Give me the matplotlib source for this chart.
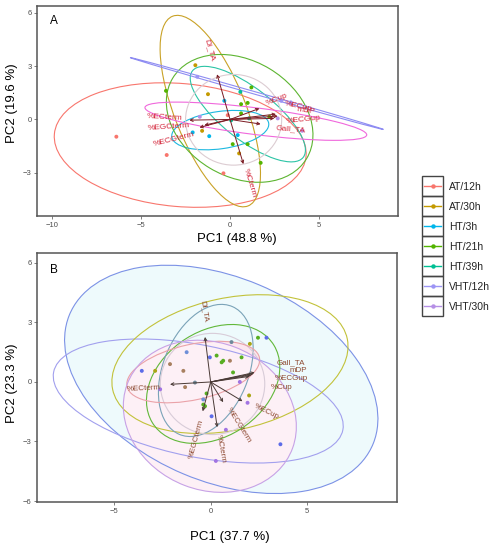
import matplotlib
matplotlib.use('Agg')
import matplotlib.pyplot as plt
from matplotlib.patches import Ellipse, Rectangle
from matplotlib.lines import Line2D

plt.rcParams.update({'font.family': ['Liberation Sans', 'DejaVu Sans']})

# ---- groups / legend ----
groups = ['AT/12h', 'AT/30h', 'HT/3h', 'HT/21h', 'HT/39h', 'VHT/12h', 'VHT/30h']
pal = ['#F8766D', '#C49A00', '#00B6EB', '#53B400', '#00C094', '#9D95F5', '#B690E6']

# ---- panel A : scores ----
a_x = [-6.39, -3.56, -0.37, -0.13,
       -1.95, -1.24, -1.57, 0.51,
       -2.10, -1.17, 0.43, -0.32,
       -3.60, 1.20, 0.99, 0.62, 0.15, 0.99, 1.72, 2.21, 0.62,
       0.58, 0.06, 1.07,
       -1.84, 2.88, 3.41,
       -1.70, 2.68, 4.06]
a_y = [-0.97, -2.00, -3.03, 0.24,
       3.05, 1.42, -0.64, -1.91,
       -0.73, -0.94, -0.88, 1.05,
       1.61, 1.80, 0.93, 0.86, -1.39, -1.39, -2.44, 0.15, 0.34,
       1.55, -0.05, 0.06,
       2.40, 1.05, 0.96,
       0.15, 0.06, -0.64]
a_g = [0, 0, 0, 0,
       1, 1, 1, 1,
       2, 2, 2, 2,
       3, 3, 3, 3, 3, 3, 3, 3, 3,
       4, 4, 4,
       5, 5, 5,
       6, 6, 6]

# ---- panel A : loadings ----
a_var = ['Dl_TA', '%Cterm', '%ECterm', '%EGCterm', '%ECGterm',
         '%Cup', '%ECup', 'mDP', '%ECGup', 'Gall_TA']
a_vx = [-0.73, 0.75, -2.29, -1.72, -1.44, 1.65, 2.58, 2.68, 2.49, 1.72]
a_vy = [2.54, -2.51, -0.04, -0.45, -0.32, 0.62, 0.30, 0.19, 0.06, -0.26]
a_lx = [-1.14, 1.12, -3.65, -3.43, -3.15, 2.62, 3.84, 4.25, 4.12, 3.41]
a_ly = [3.90, -3.56, 0.09, -0.45, -1.12, 1.14, 0.75, 0.47, 0.00, -0.56]
a_rot = [-74, -73, -3, 4, 14, 22, -12, -8, 6, -5]

# ---- panel A : ellipses (centre x, centre y, semi-axes, angle) ----
a_ecx = [-2.80, -1.11, -0.55, 0.54, 1.00, 1.50, 1.45, 0.20]
a_ecy = [-1.44, 0.47, -0.60, 0.06, 0.30, 1.46, -0.10, -0.02]
a_ea = [7.10, 5.74, 2.75, 4.39, 3.95, 7.40, 6.28, 2.70]
a_eb = [3.46, 2.00, 1.05, 3.26, 1.45, 0.07, 0.75, 2.55]
a_eang = [-5, 111.7, 8, -31, -38, -15.85, -7.1, 0]
a_ecol = ['#F8766D', '#C9A227', '#1CB8E0', '#5DB531', '#2CC4A5', '#8E8CF2',
          '#F068DC', '#DCCCD2']

# ---- panel B : scores ----
b_x = [-2.10, -1.41, -1.32, 1.00,
       -2.87, 2.03, 1.99,
       -1.24, -0.38,
       0.31, -0.21, -0.38, 2.45, 0.57, 0.65, 1.60, 1.16, -0.29,
       -0.81, 1.08,
       -3.56, -0.04, 2.89, 0.05, 3.61,
       -2.61, 1.51, 1.91, 0.79, 0.27]
b_y = [0.90, 0.56, -0.26, 1.07,
       0.56, 1.92, -0.68,
       1.50, -0.88,
       1.33, -0.58, -1.14, 2.23, 0.99, 1.07, 1.24, 0.48, -1.22,
       -0.03, 2.01,
       0.56, 1.24, 2.23, -1.73, -3.14,
       -0.37, 0.00, -1.05, -2.41, -3.98]
b_g = [0, 0, 0, 0,
       1, 1, 1,
       2, 2,
       3, 3, 3, 3, 3, 3, 3, 3, 3,
       4, 4,
       5, 5, 5, 5, 5,
       6, 6, 6, 6, 6]
b_pcol = ['#A88060', '#A9A514', '#6E8FD8', '#58AE22', '#6F8A9A', '#5C6CE8', '#A274E2']

# ---- panel B : loadings ----
b_var = ['Dl_TA', '%ECterm', '%EGCterm', '%Cterm', '%ECGterm', '%ECup',
         'Gall_TA', 'mDP', '%ECGup', '%Cup']
b_vx = [-0.29, -2.10, -0.41, 0.34, 0.65, 1.65, 2.28, 2.20, 2.10, 2.00]
b_vy = [2.27, -0.12, -1.48, -2.28, -1.02, -0.97, 0.48, 0.42, 0.35, 0.28]
b_lx = [-0.34, -3.48, -0.72, 0.53, 1.47, 2.90, 4.14, 4.53, 4.19, 3.67]
b_ly = [3.54, -0.32, -2.90, -3.37, -2.19, -1.52, 0.98, 0.58, 0.16, -0.26]
b_rot = [-81, 3, 75, -80, -58, -26, 0, 0, 0, 0]

# ---- panel B : ellipses ----
b_ecx = [0.55, -0.64, 1.00, 0.13, -0.25, 0.10, -0.90, -0.04]
b_ecy = [0.13, -0.96, 0.90, -0.10, 0.58, -0.10, 0.50, -1.73]
b_ea = [8.50, 7.62, 6.20, 3.70, 3.50, 2.70, 3.50, 4.57]
b_eb = [5.15, 2.82, 3.33, 2.68, 2.20, 2.55, 1.40, 3.72]
b_eang = [-22.3, -11, 11.8, 31.7, 66.7, 0, 12, -20.5]
b_ecol = ['#7C92E6', '#A2A0EE', '#C2C23A', '#62B83A', '#7AA3B8', '#D8CCD8',
          '#EAA2A8', '#C7A2E6']
b_efill = ['#EEFAFC', None, None, None, None, None, '#FCE6EE', '#FDF0F6']

W, H = 493, 550
fig = plt.figure(figsize=(W / 100, H / 100), dpi=100)


def px_axes(l, t, r, b):
    return fig.add_axes([l / W, 1 - b / H, (r - l) / W, (b - t) / H])


def panel(ax, xs, ys, gs, pcols, ecx, ecy, ea, eb, eang, ecol, efill,
          vx, vy, var, lx, ly, rot, acol, lcol, lsize, xlim, ylim, xt, yt, tag):
    for cx, cy, a, b, ang, f in zip(ecx, ecy, ea, eb, eang, efill):
        if f is not None:
            ax.add_patch(Ellipse((cx, cy), 2 * a, 2 * b, angle=ang, fc=f,
                                 ec='none', zorder=0))
    for cx, cy, a, b, ang, c in zip(ecx, ecy, ea, eb, eang, ecol):
        ax.add_patch(Ellipse((cx, cy), 2 * a, 2 * b, angle=ang, fill=False,
                             ec=c, lw=0.8, zorder=1))
    ax.scatter(xs, ys, s=8, c=[pcols[g] for g in gs], zorder=3, lw=0)
    for x, y in zip(vx, vy):
        ax.annotate('', xy=(x, y), xytext=(0, 0), zorder=4,
                    arrowprops=dict(arrowstyle='->', color=acol, lw=0.7,
                                    mutation_scale=5, shrinkA=0, shrinkB=0))
    for t, x, y, r in zip(var, lx, ly, rot):
        ax.text(x, y, t, color=lcol, fontsize=lsize, rotation=r,
                ha='center', va='center', zorder=5, rotation_mode='anchor')
    ax.set_xlim(*xlim)
    ax.set_ylim(*ylim)
    ax.set_xticks(xt)
    ax.set_yticks(yt)
    ax.tick_params(labelsize=5.5, colors='#4d4d4d', length=2, width=0.5, pad=2)
    for s in ax.spines.values():
        s.set_color('#555555')
        s.set_linewidth(1.1)
    ax.text(0.035, 0.93, tag, transform=ax.transAxes, fontsize=8.5,
            ha='left', va='center')


axA = px_axes(37, 6, 398, 216)
panel(axA, a_x, a_y, a_g, pal, a_ecx, a_ecy, a_ea, a_eb, a_eang, a_ecol,
      [None] * 8, a_vx, a_vy, a_var, a_lx, a_ly, a_rot, '#7B1A22', '#D4263A', 6,
      (-10.85, 9.44), (-5.43, 6.38), [-10, -5, 0, 5], [-3, 0, 3, 6], 'A')

axB = px_axes(37, 253, 397, 502)
panel(axB, b_x, b_y, b_g, b_pcol, b_ecx, b_ecy, b_ea, b_eb, b_eang, b_ecol,
      b_efill, b_vx, b_vy, b_var, b_lx, b_ly, b_rot, '#4a3a36', '#8E4A32', 5.8,
      (-8.98, 9.64), (-6.05, 6.5), [-5, 0, 5], [-6, -3, 0, 3, 6], 'B')

fig.text(237 / W, 1 - 239 / H, 'PC1 (48.8 %)', fontsize=9.5, ha='center', va='center')
fig.text(12 / W, 1 - 103 / H, 'PC2 (19.6 %)', fontsize=9.5, rotation=90,
         ha='center', va='center')
fig.text(230 / W, 1 - 537 / H, 'PC1 (37.7 %)', fontsize=9.5, ha='center', va='center')
fig.text(12 / W, 1 - 383 / H, 'PC2 (23.3 %)', fontsize=9.5, rotation=90,
         ha='center', va='center')

# ---- legend (drawn in pixel space) ----
lg = fig.add_axes([0, 0, 1, 1], zorder=10)
lg.set_xlim(0, W)
lg.set_ylim(H, 0)
lg.axis('off')
for i, (g, c) in enumerate(zip(groups, pal)):
    y0 = 176 + 20 * i
    lg.add_patch(Rectangle((422, y0), 21, 20, fill=False, ec='#444444', lw=1))
    lg.add_line(Line2D([424, 441], [y0 + 10, y0 + 10], color=c, lw=1))
    lg.plot(432.5, y0 + 10, 'o', ms=3.2, color=c, mew=0)
    lg.text(449, y0 + 10.5, g, fontsize=7.5, ha='left', va='center', color='#222222')

fig.savefig('out.png', dpi=100)
